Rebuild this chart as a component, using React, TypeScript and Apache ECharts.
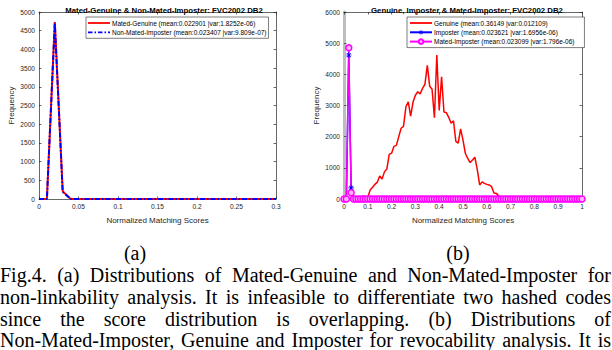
import React, { useEffect, useRef } from 'react';
import * as echarts from 'echarts';

// ---------- data ----------
const LEFT_STEP = 0.01; // bin width, panel (a)
const RIGHT_STEP = 0.01; // bin width, panel (b)

const leftTitle = 'Mated-Genuine & Non-Mated-Imposter: FVC2002 DB2';
const rightTitle = 'Genuine, Imposter & Mated-Imposter: FVC2002 DB2';
const xName = 'Normalized Matching Scores';
const yName = 'Frequency';

const nameMatedGenuine = 'Mated-Genuine (mean:0.022901 |var:1.8252e-06)';
const nameNonMatedImposter = 'Non-Mated-Imposter (mean:0.023407 |var:9.809e-07)';
const nameGenuine = 'Genuine (mean:0.36149 |var:0.012109)';
const nameImposter = 'Imposter (mean:0.023621 |var:1.6956e-06)';
const nameMatedImposter = 'Mated-Imposter (mean:0.023099 |var:1.796e-06)';

// panel (a): 31 bins, 0 .. 0.3
const matedGenuine = [
  0, 0, 4730, 210, 0, 0, 0, 0, 0, 0,
  0, 0, 0, 0, 0, 0, 0, 0, 0, 0,
  0, 0, 0, 0, 0, 0, 0, 0, 0, 0,
  0,
];
const nonMatedImposter = [
  0, 0, 4710, 190, 0, 0, 0, 0, 0, 0,
  0, 0, 0, 0, 0, 0, 0, 0, 0, 0,
  0, 0, 0, 0, 0, 0, 0, 0, 0, 0,
  0,
];

// panel (b): 101 bins, 0 .. 1
const genuine = [
  0, 0, 0, 0, 0, 0, 0, 0, 100, 70,
  60, 290, 380, 470, 540, 740, 640, 870, 960, 1430,
  1470, 1690, 1720, 2000, 2270, 2330, 2950, 3120, 2660, 3110,
  3330, 3440, 3370, 3550, 3680, 4290, 3620, 3520, 2610, 4620,
  2840, 3920, 2790, 2770, 2620, 2430, 2510, 1850, 1790, 2250,
  1890, 1460, 1300, 1170, 1250, 1340, 940, 450, 550, 500,
  470, 450, 400, 190, 180, 100, 20, 0, 0, 0,
  0, 0, 0, 0, 0, 0, 0, 0, 0, 0,
  0, 0, 0, 0, 0, 0, 0, 0, 0, 0,
  0, 0, 0, 0, 0, 0, 0, 0, 0, 0,
  0,
];
const imposter = [
  0, 0, 4620, 360, 0, 0, 0, 0, 0, 0,
  0, 0, 0, 0, 0, 0, 0, 0, 0, 0,
  0, 0, 0, 0, 0, 0, 0, 0, 0, 0,
  0, 0, 0, 0, 0, 0, 0, 0, 0, 0,
  0, 0, 0, 0, 0, 0, 0, 0, 0, 0,
  0, 0, 0, 0, 0, 0, 0, 0, 0, 0,
  0, 0, 0, 0, 0, 0, 0, 0, 0, 0,
  0, 0, 0, 0, 0, 0, 0, 0, 0, 0,
  0, 0, 0, 0, 0, 0, 0, 0, 0, 0,
  0, 0, 0, 0, 0, 0, 0, 0, 0, 0,
  0,
];
const matedImposter = [
  0, 0, 4850, 200, 0, 0, 0, 0, 0, 0,
  0, 0, 0, 0, 0, 0, 0, 0, 0, 0,
  0, 0, 0, 0, 0, 0, 0, 0, 0, 0,
  0, 0, 0, 0, 0, 0, 0, 0, 0, 0,
  0, 0, 0, 0, 0, 0, 0, 0, 0, 0,
  0, 0, 0, 0, 0, 0, 0, 0, 0, 0,
  0, 0, 0, 0, 0, 0, 0, 0, 0, 0,
  0, 0, 0, 0, 0, 0, 0, 0, 0, 0,
  0, 0, 0, 0, 0, 0, 0, 0, 0, 0,
  0, 0, 0, 0, 0, 0, 0, 0, 0, 0,
  0,
];

const subLabels = ['(a)', '(b)'];
const captionLines = [
  'Fig.4. (a) Distributions of Mated-Genuine and Non-Mated-Imposter for',
  'non-linkability analysis. It is infeasible to differentiate two hashed codes',
  'since the score distribution is overlapping. (b) Distributions of',
  'Non-Mated-Imposter, Genuine and Imposter for revocability analysis. It is',
];

// ---------- helpers ----------
const AX = '#262626';
const SANS = 'Liberation Sans';
const SERIF = 'Liberation Serif';
const CAP_SIZE = 20;
const TICK_SIZE = 6.6;
const LABEL_SIZE = 8;
const LEGEND_SIZE = 6.5;
const TITLE_SIZE = 7.8;

const pairs = (vals: number[], step: number) =>
  vals.map((v, i) => [Math.round(i * step * 10000) / 10000, v]);

const asterisk =
  'path://M-1.2,-10L1.2,-10L1.2,10L-1.2,10Z M-10,-1.2L10,-1.2L10,1.2L-10,1.2Z M-7.9,-6.2L-6.2,-7.9L7.9,6.2L6.2,7.9Z M6.2,-7.9L7.9,-6.2L-6.2,7.9L-7.9,6.2Z';
// legend glyphs (a solid and a dash-dot stroke)
const solidIcon = 'path://M0,0L22,0L22,1.8L0,1.8Z';
const dashDotIcon =
  'path://M0,0h4.5v1.8h-4.5Z M6.5,0h1.5v1.8h-1.5Z M10,0h4.5v1.8h-4.5Z M16.5,0h1.5v1.8h-1.5Z M20,0h2v1.8h-2Z';

function captionGraphics(): any[] {
  const canvas = document.createElement('canvas');
  const ctx = canvas.getContext('2d')!;
  ctx.font = `${CAP_SIZE}px "${SERIF}"`;
  const space = ctx.measureText(' ').width;
  const els: any[] = [];
  const x0 = 0;
  const x1 = 611;
  const ys = [275, 297, 319, 340];
  captionLines.forEach((line, li) => {
    const words = line.split(' ');
    const widths = words.map((w) => ctx.measureText(w).width);
    const total = widths.reduce((a, b) => a + b, 0);
    let gap = words.length > 1 ? (x1 - x0 - total) / (words.length - 1) : space;
    let scale = 1;
    const minGap = space * 0.6;
    if (gap < minGap) {
      scale = (x1 - x0 - minGap * (words.length - 1)) / total;
      gap = minGap;
    }
    let x = x0;
    words.forEach((w, i) => {
      els.push({
        type: 'text',
        x,
        y: ys[li],
        scaleX: scale,
        silent: true,
        style: {
          text: w,
          fontSize: CAP_SIZE,
          fontFamily: SERIF,
          fill: '#000',
          verticalAlign: 'middle',
          align: 'left',
        },
      });
      x += widths[i] * scale + gap;
    });
  });
  const subX = [135, 458];
  subLabels.forEach((t, i) => {
    els.push({
      type: 'text',
      x: subX[i],
      y: 253,
      silent: true,
      style: {
        text: t,
        fontSize: CAP_SIZE,
        fontFamily: SERIF,
        fill: '#000',
        verticalAlign: 'middle',
        align: 'center',
      },
    });
  });
  return els;
}

const plain = (v: number) => String(v);

function mainXAxis(grid: number, max: number, interval: number) {
  return {
    type: 'value',
    gridIndex: grid,
    min: 0,
    max,
    interval,
    position: 'bottom',
    name: xName,
    nameLocation: 'middle',
    nameGap: 17,
    nameTextStyle: { fontSize: LABEL_SIZE, fontFamily: SANS, color: AX },
    axisLine: { lineStyle: { color: AX, width: 0.7 } },
    axisTick: { inside: true, length: 2.5, lineStyle: { color: AX, width: 0.7 } },
    axisLabel: { fontSize: TICK_SIZE, fontFamily: SANS, color: AX, margin: 4, formatter: plain },
    splitLine: { show: false },
  };
}
function sideXAxis(grid: number, max: number, interval: number) {
  return {
    type: 'value',
    gridIndex: grid,
    min: 0,
    max,
    interval,
    position: 'top',
    axisLine: { onZero: false, lineStyle: { color: AX, width: 0.7 } },
    axisTick: { inside: true, length: 2.5, lineStyle: { color: AX, width: 0.7 } },
    axisLabel: { show: false },
    splitLine: { show: false },
  };
}
function mainYAxis(grid: number, max: number, interval: number, lineColor: string, lineWidth: number) {
  return {
    type: 'value',
    gridIndex: grid,
    min: 0,
    max,
    interval,
    position: 'left',
    name: yName,
    nameLocation: 'middle',
    nameGap: 24,
    nameTextStyle: { fontSize: LABEL_SIZE, fontFamily: SANS, color: AX },
    axisLine: { show: true, onZero: false, lineStyle: { color: lineColor, width: lineWidth } },
    axisTick: { show: true, inside: true, length: 2.5, lineStyle: { color: AX, width: 0.7 } },
    axisLabel: { fontSize: TICK_SIZE, fontFamily: SANS, color: AX, margin: 4, formatter: plain },
    splitLine: { show: false },
  };
}
function sideYAxis(grid: number, max: number, interval: number) {
  return {
    type: 'value',
    gridIndex: grid,
    min: 0,
    max,
    interval,
    position: 'right',
    axisLine: { show: true, onZero: false, lineStyle: { color: AX, width: 0.7 } },
    axisTick: { show: true, inside: true, length: 2.5, lineStyle: { color: AX, width: 0.7 } },
    axisLabel: { show: false },
    splitLine: { show: false },
  };
}
function legendOf(left: number, data: any[], rightPad: number) {
  return {
    orient: 'vertical',
    left,
    top: 17,
    padding: [2, rightPad, 2, 2],
    itemWidth: 22,
    itemHeight: 6,
    itemGap: 1.3,
    borderColor: AX,
    borderWidth: 0.6,
    borderRadius: 0,
    backgroundColor: '#fff',
    selectedMode: false,
    textStyle: { fontSize: LEGEND_SIZE, fontFamily: SANS, color: '#000', lineHeight: 8, padding: [0, 0, 0, -3] },
    data,
  };
}

export default function App() {
  const ref = useRef<HTMLDivElement>(null);
  useEffect(() => {
    if (!ref.current) return;
    const chart = echarts.init(ref.current, null, { renderer: 'svg' });
    const option: any = {
      animation: false,
      backgroundColor: '#fff',
      title: [
        {
          text: leftTitle,
          left: 159,
          top: 1,
          textAlign: 'center',
          textStyle: { fontSize: TITLE_SIZE, fontWeight: 'bold', fontFamily: SANS, color: '#000' },
        },
        {
          text: rightTitle,
          left: 462,
          top: 1,
          textAlign: 'center',
          textStyle: { fontSize: TITLE_SIZE, fontWeight: 'bold', fontFamily: SANS, color: '#000' },
        },
      ],
      legend: [
        legendOf(
          86,
          [
            { name: nameMatedGenuine, icon: solidIcon },
            { name: nameNonMatedImposter, icon: dashDotIcon },
          ],
          2
        ),
        legendOf(
          407,
          [{ name: nameGenuine, icon: solidIcon }, nameImposter, nameMatedImposter],
          10
        ),
      ],
      grid: [
        { left: 39, right: 336, top: 12, bottom: 151, containLabel: false },
        { left: 344, right: 30, top: 12, bottom: 151, containLabel: false },
      ],
      xAxis: [
        mainXAxis(0, 0.3, 0.05),
        sideXAxis(0, 0.3, 0.05),
        mainXAxis(1, 1, 0.1),
        sideXAxis(1, 1, 0.1),
      ],
      yAxis: [
        mainYAxis(0, 5000, 500, AX, 0.7),
        sideYAxis(0, 5000, 500),
        mainYAxis(1, 6000, 1000, '#bdbdbd', 3),
        sideYAxis(1, 6000, 1000),
      ],
      series: [
        {
          name: nameMatedGenuine,
          type: 'line',
          xAxisIndex: 0,
          yAxisIndex: 0,
          data: pairs(matedGenuine, LEFT_STEP),
          symbol: 'none',
          lineStyle: { color: '#ff0000', width: 2 },
          itemStyle: { color: '#ff0000' },
          emphasis: { disabled: true },
        },
        {
          name: nameNonMatedImposter,
          type: 'line',
          xAxisIndex: 0,
          yAxisIndex: 0,
          data: pairs(nonMatedImposter, LEFT_STEP),
          symbol: 'none',
          lineStyle: { color: '#0000ff', width: 2, type: [5, 2, 1.5, 2] },
          itemStyle: { color: '#0000ff' },
          emphasis: { disabled: true },
        },
        {
          name: nameGenuine,
          type: 'line',
          xAxisIndex: 2,
          yAxisIndex: 2,
          data: pairs(genuine, RIGHT_STEP),
          symbol: 'none',
          lineStyle: { color: '#ff0000', width: 1.5 },
          itemStyle: { color: '#ff0000' },
          emphasis: { disabled: true },
        },
        {
          name: nameImposter,
          type: 'line',
          xAxisIndex: 2,
          yAxisIndex: 2,
          data: pairs(imposter, RIGHT_STEP),
          symbol: asterisk,
          symbolSize: 6,
          showAllSymbol: true,
          lineStyle: { color: '#0000ff', width: 1.5 },
          itemStyle: { color: '#0000ff' },
          emphasis: { disabled: true },
        },
        {
          name: nameMatedImposter,
          type: 'line',
          xAxisIndex: 2,
          yAxisIndex: 2,
          data: pairs(matedImposter, RIGHT_STEP),
          symbol: 'circle',
          symbolSize: 6,
          showAllSymbol: true,
          lineStyle: { color: '#ff00ff', width: 1.5 },
          itemStyle: { color: '#ffb3ff', borderColor: '#ff00ff', borderWidth: 1.5 },
          emphasis: { disabled: true },
        },
      ],
      graphic: captionGraphics(),
    };
    chart.setOption(option);
    return () => chart.dispose();
  }, []);
  return (
    <div
      ref={ref}
      style={{ position: 'fixed', left: 0, top: 0, width: 612, height: 350, background: '#fff' }}
    />
  );
}
